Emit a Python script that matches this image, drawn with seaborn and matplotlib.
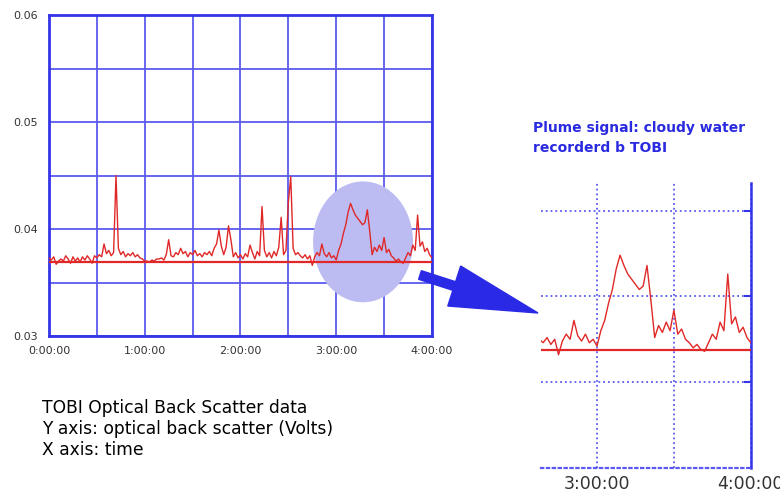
import matplotlib
matplotlib.use('Agg')
import matplotlib.pyplot as plt
from matplotlib.patches import Ellipse, FancyArrow
import seaborn as sns
import numpy as np
import pandas as pd

sns.set_style("white")
plt.rcParams['font.family'] = ['DejaVu Sans']

# logger samples every 90 s over the 4 hour record (minutes)
sample_minutes = np.arange(0, 240.1, 1.5)

# optical back scatter (mV)
obs_mv = [
    37.3, 37.1, 37.4, 36.7, 37.0, 37.2, 37.0, 37.5, 37.2, 36.8,
    37.4, 37.0, 37.3, 36.9, 37.4, 37.1, 37.5, 37.2, 36.8, 37.5,
    37.3, 37.6, 37.4, 38.6, 37.7, 38.0, 37.5, 37.8, 45.0, 38.2,
    37.6, 37.9, 37.4, 37.7, 37.5, 37.8, 37.4, 37.6, 37.3, 37.2,
    37.0, 37.0, 36.9, 37.1, 37.0, 37.2, 37.2, 37.3, 37.1, 37.6,
    39.0, 37.5, 37.4, 37.8, 37.6, 38.2, 37.7, 37.9, 37.4, 37.8,
    37.6, 38.0, 37.5, 37.7, 37.4, 37.8, 37.6, 37.9, 37.5, 38.2,
    38.6, 39.9, 38.4, 37.6, 38.3, 40.3, 39.0, 37.4, 37.8, 37.3,
    37.6, 37.2, 37.7, 37.4, 38.5, 37.8, 37.2, 37.9, 37.5, 42.1,
    38.0, 37.4, 37.8, 37.3, 37.9, 37.5, 38.3, 41.1, 37.6, 38.0,
    42.5, 44.9, 38.2, 37.6, 37.8, 37.5, 37.3, 37.6, 37.2, 37.5,
    36.6, 37.4, 37.8, 37.5, 38.6, 37.7, 37.4, 37.8, 37.3, 37.5,
    37.1, 38.0, 38.6, 39.6, 40.4, 41.6, 42.4, 41.8, 41.3, 41.0,
    40.7, 40.4, 40.6, 41.8, 39.8, 37.6, 38.3, 37.9, 38.5, 38.0,
    39.2, 37.8, 38.1, 37.5, 37.3, 37.0, 37.2, 36.9, 36.8, 37.3,
    37.8, 37.5, 38.5, 38.0, 41.3, 38.4, 38.8, 37.9, 38.2, 37.6,
    37.3,
]
baseline_mv = 36.9

x_labels = ['0:00:00', '1:00:00', '2:00:00', '3:00:00', '4:00:00']
y_labels = ['0.03', '0.04', '0.05', '0.06']
inset_x_labels = ['3:00:00', '', '4:00:00']

text_note = ("TOBI Optical Back Scatter data\n"
             "Y axis: optical back scatter (Volts)\n"
             "X axis: time")
text_plume = "Plume signal: cloudy water\nrecorderd b TOBI"

red = '#e02828'
blue = '#3434e8'
grid_blue = '#5a5af0'

df = pd.DataFrame({'hours': sample_minutes / 60.0,
                   'obs': np.array(obs_mv) / 1000.0})
baseline = baseline_mv / 1000.0

fig = plt.figure(figsize=(7.8, 4.99), dpi=100)

# main panel
ax = fig.add_axes([0.0628, 0.3267, 0.491, 0.643])
sns.lineplot(data=df, x='hours', y='obs', ax=ax, color=red, lw=1.0, zorder=3)
ax.axhline(baseline, color=red, lw=1.6, zorder=3)
ax.add_patch(Ellipse((3.28, 0.0388), 1.044, 0.0113, facecolor='#bcbcf3',
                     edgecolor='none', zorder=1))
ax.set_xlim(0, 4)
ax.set_ylim(0.03, 0.06)
ax.set_xticks([0, 1, 2, 3, 4])
ax.set_xticklabels(x_labels)
ax.set_xticks([0.5, 1.5, 2.5, 3.5], minor=True)
ax.set_yticks([0.03, 0.04, 0.05, 0.06])
ax.set_yticklabels(y_labels)
ax.set_yticks([0.035, 0.045, 0.055], minor=True)
ax.grid(True, which='both', color=grid_blue, lw=1.3)
for s in ax.spines.values():
    s.set_color(blue)
    s.set_linewidth(2)
ax.tick_params(which='both', length=0, labelsize=8, labelcolor='#333333')
ax.tick_params(axis='x', pad=7)
ax.tick_params(axis='y', pad=8)
ax.set_xlabel('')
ax.set_ylabel('')

# zoomed panel
ax2 = fig.add_axes([0.6936, 0.0621, 0.269, 0.571])
sns.lineplot(data=df, x='hours', y='obs', ax=ax2, color=red, lw=1.0, zorder=3)
ax2.axhline(baseline, color=red, lw=1.6, zorder=3)
ax2.set_xlim(2.636, 4.0)
ax2.set_ylim(0.030, 0.0466)
ax2.set_xticks([3.0, 3.5, 4.0])
ax2.set_xticklabels(inset_x_labels)
ax2.set_yticks([0.035, 0.040, 0.045])
ax2.yaxis.tick_right()
ax2.set_yticklabels([])
ax2.grid(True, color=grid_blue, lw=1.3, linestyle=':')
ax2.spines['left'].set_visible(False)
ax2.spines['top'].set_visible(False)
ax2.spines['right'].set_color(blue)
ax2.spines['right'].set_linewidth(1.8)
ax2.spines['bottom'].set_color(grid_blue)
ax2.spines['bottom'].set_linestyle(':')
ax2.spines['bottom'].set_linewidth(1.6)
ax2.tick_params(direction='in', length=5, width=1.5, color=blue,
                labelsize=12.5, labelcolor='#333333', pad=5)
ax2.set_xlabel('')
ax2.set_ylabel('')

# arrow from the circled plume to the zoomed panel
fig.add_artist(FancyArrow(4.20, 2.24, 1.18, -0.38, width=0.09,
                          head_width=0.42, head_length=0.88,
                          length_includes_head=True, color='#2a2ae6',
                          transform=fig.dpi_scale_trans))

fig.text(42 / 780, 1 - 399 / 499, text_note, va='top', ha='left',
         fontsize=12.3, color='black', linespacing=1.22)
fig.text(533 / 780, 1 - 121 / 499, text_plume, va='top', ha='left',
         fontsize=10, color='#2a2ae0', fontweight='bold', linespacing=1.5)

fig.savefig('out.png', dpi=100)
plt.close()
